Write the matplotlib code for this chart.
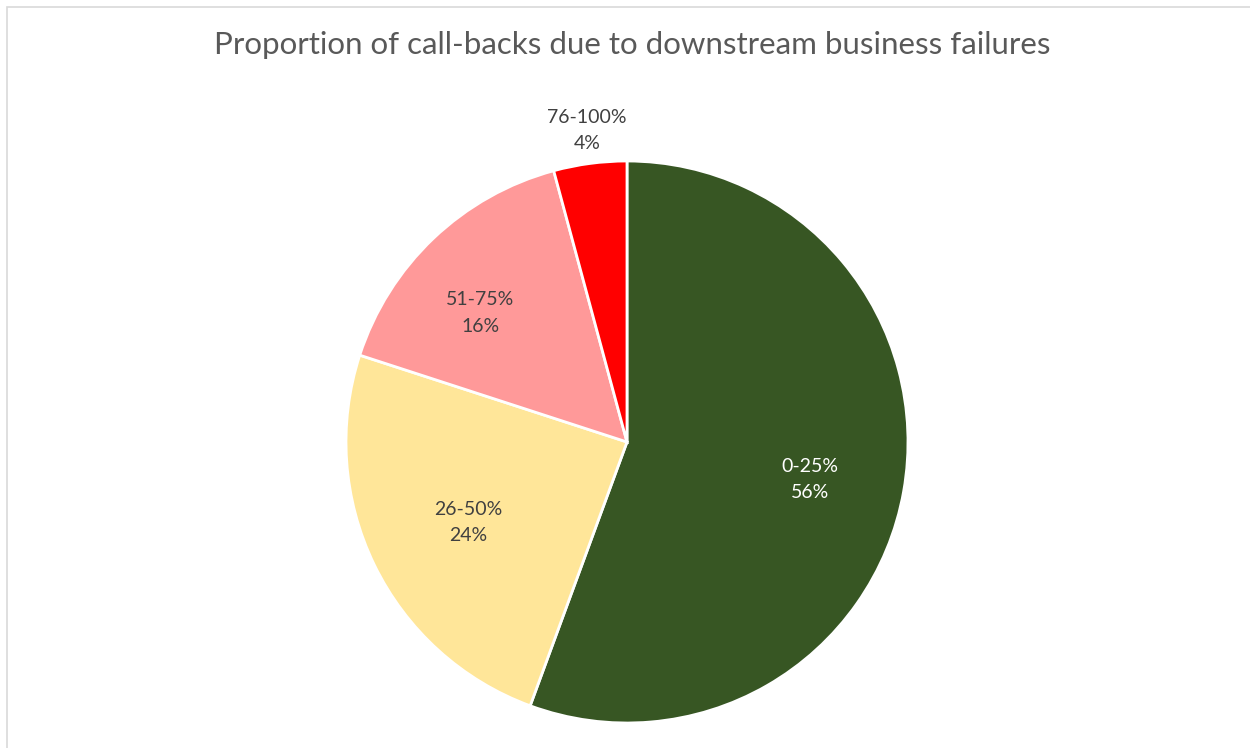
import matplotlib.pyplot as plt
from matplotlib.patches import Rectangle

# datos
categorias = ['0-25%', '26-50%', '51-75%', '76-100%']
valores = [55.6, 24.4, 15.8, 4.2]
colores = ['#375623', '#FFE699', '#FF9999', '#FF0000']
titulo = 'Proportion of call-backs due to downstream business failures'

plt.rcParams['font.family'] = ['Lato', 'DejaVu Sans']

fig = plt.figure(figsize=(12.5, 7.48), dpi=100)

# marco gris claro
fig.patches.append(Rectangle((7/1250, -0.1), 1.2, 1 - 7/748 + 0.1, transform=fig.transFigure,
                             fill=False, edgecolor='#D9D9D9', linewidth=1.2))

cx, cy, r = 627, 442, 281
ax = fig.add_axes([(cx - r)/1250, (748 - cy - r)/748, 2*r/1250, 2*r/748])
ax.pie(valores, colors=colores, startangle=90, counterclock=False, radius=1,
       wedgeprops={'edgecolor': 'white', 'linewidth': 2})
ax.set_xlim(-1, 1)
ax.set_ylim(-1, 1)
ax.set_aspect('equal')
ax.axis('off')

# posiciones de etiquetas (en unidades del radio)
pos_etiquetas = [(0.651, -0.135), (-0.566, -0.285), (-0.523, 0.459), (-0.142, 1.11)]
color_texto = ['white', '#404040', '#404040', '#404040']
for cat, v, (x, y), c in zip(categorias, valores, pos_etiquetas, color_texto):
    ax.text(x, y, f'{cat}\n{v:.0f}%', ha='center', va='center', fontsize=14,
            color=c, linespacing=1.65, clip_on=False)

fig.text(0.506, 1 - 45/748, titulo, ha='center', va='center', fontsize=22.5, color='#595959')

plt.savefig('out.png', dpi=100)
